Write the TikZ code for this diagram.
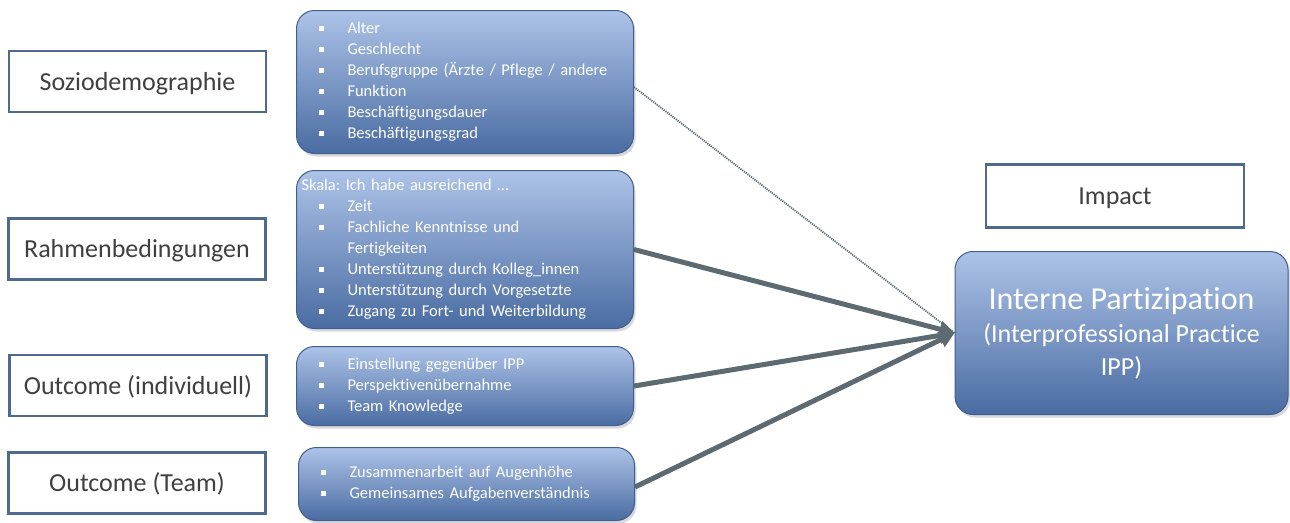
\documentclass[tikz,border=0pt]{standalone}
\usepackage{fontspec}
\setmainfont{Carlito}[Ligatures=NoCommon]
\usetikzlibrary{arrows.meta,shadows}

\definecolor{rand}{HTML}{4F6A8F}
\definecolor{hell}{HTML}{ADC3E8}
\definecolor{dunkel}{HTML}{4A6CA2}
\definecolor{kante}{HTML}{3F5F92}
\definecolor{pfeilgrau}{HTML}{5E6A71}
\definecolor{schrift}{HTML}{404040}

\newcommand{\blt}{\makebox[37pt][l]{\hspace{8pt}\raisebox{2.5pt}{\rule{5pt}{5pt}}}}
\newcommand{\ein}{\makebox[37pt][l]{}}

\tikzset{
  kasten/.style={draw=rand, line width=2.5pt, fill=white, inner sep=0pt,
    minimum width=257pt, minimum height=61pt, text=schrift,
    text height=22pt, text depth=5pt,
    font=\fontsize{26}{30}\selectfont},
  liste/.style={draw=kante, line width=1pt, rounded corners=18pt,
    top color=hell, bottom color=dunkel, text=white, align=left,
    anchor=north west, inner xsep=14pt, inner ysep=0pt,
    font=\fontsize{16.5}{21}\selectfont\frenchspacing,
    drop shadow={opacity=0.3, shadow xshift=2pt, shadow yshift=-3pt}},
  pfeil/.style={draw=pfeilgrau, line width=5pt,
    -{Triangle[length=15pt,width=16pt]}},
}

\begin{document}
\begin{tikzpicture}[x=1pt, y=-1pt]
    \useasboundingbox (0,0) rectangle (1290,522);

    % linke Spalte
    \node[kasten] (l1) at (137.5,81.5) {Soziodemographie};
    \node[kasten] (l2) at (137,249) {Rahmenbedingungen};
    \node[kasten] (l3) at (138,385.5) {Outcome (individuell)};
    \node[kasten] (l4) at (137,483) {Outcome (Team)};

    % mittlere Spalte
    \node[liste, minimum width=337pt, minimum height=143pt, text width=309pt] (m1) at (296,10)
      {\blt Alter\\ \blt Geschlecht\\ \blt Berufsgruppe (Ärzte / Pflege / andere\\
       \blt Funktion\\ \blt Beschäftigungsdauer\\ \blt Beschäftigungsgrad};
    \node[liste, minimum width=337pt, minimum height=158pt, text width=309pt] (m2) at (296,170)
      {\hspace*{-9pt}Skala: Ich habe ausreichend …\\ \blt Zeit\\ \blt Fachliche Kenntnisse und\\
       \ein Fertigkeiten\\ \blt Unterstützung durch Kolleg\_innen\\
       \blt Unterstützung durch Vorgesetzte\\ \blt Zugang zu Fort- und Weiterbildung};
    \node[liste, minimum width=337pt, minimum height=79pt, text width=309pt] (m3) at (296,346)
      {\blt Einstellung gegenüber IPP\\ \blt Perspektivenübernahme\\ \blt Team Knowledge};
    \node[liste, minimum width=336pt, minimum height=73pt, text width=308pt] (m4) at (298,447)
      {\blt Zusammenarbeit auf Augenhöhe\\ \blt Gemeinsames Aufgabenverständnis};

    % rechte Spalte
    \node[kasten, minimum width=258pt, minimum height=63pt] (r1) at (1115,196) {Impact};
    \node[liste, anchor=center, align=center, minimum width=333pt, minimum height=163pt,
      font=\fontsize{26}{33}\selectfont] (r2) at (1121.5,333)
      {{\fontsize{32}{37}\selectfont Interne Partizipation}\\ (Interprofessional Practice\\ IPP)};

    \draw[pfeilgrau, line width=1.8pt, dash pattern=on 1.2pt off 1pt] ([yshift=-5pt]m1.east) -- (r2.west);
    \draw[pfeil] (m2.east) -- (r2.west);
    \draw[pfeil] (m3.east) -- (r2.west);
    \draw[pfeil] ([yshift=-3pt]m4.east) -- (r2.west);
  \end{tikzpicture}
\end{document}
